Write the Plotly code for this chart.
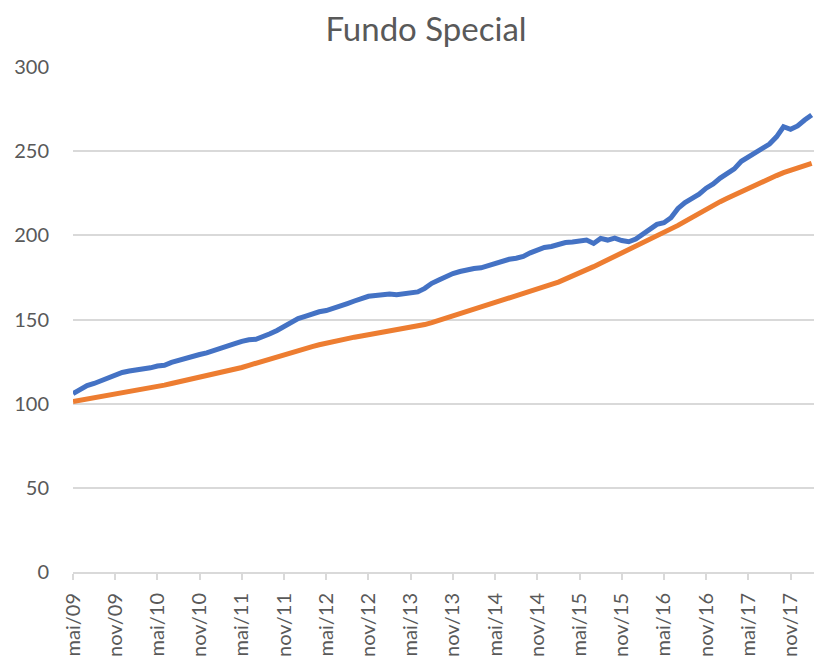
import plotly.graph_objects as go

# month index 0 = mai/09 ... 105 = fev/18
fundo = [106.0, 108.5, 110.8, 112.0, 113.5, 115.5, 117.2, 118.5, 119.4, 119.8,
         120.6, 121.3, 122.4, 122.8, 124.5, 125.8, 127.2, 128.5, 129.2, 130.2,
         131.4, 132.5, 134.0, 135.6, 137.0, 138.0, 138.2, 139.5, 141.5, 143.5,
         146.0, 148.5, 150.5, 151.8, 153.3, 154.6, 155.3, 156.5, 157.8, 159.5,
         161.0, 162.8, 163.8, 164.3, 164.8, 165.1, 164.7, 165.4, 166.2, 166.4,
         168.5, 171.5, 173.5, 175.5, 177.3, 178.5, 179.5, 180.3, 180.7, 182.0,
         183.6, 185.2, 185.8, 186.4, 187.5, 189.6, 191.5, 192.8, 193.4, 194.5,
         195.7, 196.0, 196.5, 197.2, 195.2, 198.2, 197.2, 198.3, 196.9, 196.2,
         197.8, 200.5, 203.2, 206.5, 207.5, 210.5, 216.0, 219.5, 222.0, 224.5,
         228.0, 230.5, 234.0, 236.4, 239.5, 244.0, 246.5, 249.5, 251.5, 254.2,
         258.5, 264.5, 263.0, 265.0, 268.5, 271.5]

benchmark = [101.3, 102.0, 102.8, 103.6, 104.4, 105.1, 105.8, 106.5, 107.1, 107.8,
             108.5, 109.3, 110.1, 111.0, 112.0, 112.9, 113.8, 114.6, 115.5, 116.4,
             117.3, 118.2, 119.3, 120.4, 121.5, 122.8, 124.1, 125.4, 126.7, 128.0,
             129.3, 130.5, 131.7, 132.8, 133.9, 135.0, 136.0, 137.0, 137.9, 138.8,
             139.5, 140.2, 140.9, 141.6, 142.3, 143.0, 143.7, 144.4, 145.2, 146.0,
             147.0, 148.2, 149.5, 150.8, 152.2, 153.6, 155.0, 156.4, 157.6, 158.7,
             159.8, 161.0, 162.3, 163.7, 165.1, 166.6, 168.0, 169.4, 170.8, 172.2,
             173.9, 175.7, 177.5, 179.4, 181.4, 183.4, 185.4, 187.4, 189.4, 191.4,
             193.3, 195.2, 197.2, 199.2, 201.3, 203.5, 205.9, 208.3, 210.8, 213.1,
             215.4, 217.7, 220.0, 222.0, 224.0, 225.9, 227.7, 229.8, 231.8, 233.7,
             235.5, 237.2, 238.7, 240.1, 241.4, 242.7]

months = list(range(len(fundo)))

tick_labels = ["mai/09", "nov/09", "mai/10", "nov/10", "mai/11", "nov/11",
               "mai/12", "nov/12", "mai/13", "nov/13", "mai/14", "nov/14",
               "mai/15", "nov/15", "mai/16", "nov/16", "mai/17", "nov/17"]
tick_months = [6 * i for i in range(len(tick_labels))]

y_ticks = [0, 50, 100, 150, 200, 250, 300]

fig = go.Figure()
fig.add_trace(go.Scatter(x=months, y=fundo, mode="lines", name="Fundo",
                         line=dict(color="#4472C4", width=5)))
fig.add_trace(go.Scatter(x=months, y=benchmark, mode="lines", name="Benchmark",
                         line=dict(color="#ED7D31", width=5)))

font = "Lato, Open Sans, sans-serif"
# page body has an 8px margin, so the figure is offset by (8, 8)
fig.update_layout(
    width=814, height=651,
    paper_bgcolor="white", plot_bgcolor="white",
    showlegend=False,
    margin=dict(l=65, r=4, t=59, b=87, autoexpand=False),
    title=dict(text="Fundo Special", x=418 / 814, xanchor="center",
               y=1 - 21 / 651, yanchor="middle",
               font=dict(family=font, size=33, color="#595959")),
    font=dict(family=font, color="#595959"),
)
fig.update_xaxes(
    range=[0, 105.9], tickmode="array", tickvals=tick_months, ticktext=tick_labels,
    tickangle=-90, tickfont=dict(size=20, color="#595959"),
    showgrid=False, showline=True, linecolor="#d9d9d9", linewidth=2,
    ticks="outside", ticklen=6, tickcolor="#d9d9d9", tickwidth=2,
    ticklabelstandoff=5, zeroline=False, automargin=False,
)
fig.update_yaxes(
    range=[0, 300], tickmode="array", tickvals=y_ticks,
    tickfont=dict(size=20, color="#595959"),
    showgrid=True, gridcolor="#d9d9d9", gridwidth=2,
    showline=False, zeroline=False, ticks="", ticklabelstandoff=23, automargin=False,
)

fig.write_html("out.html")
